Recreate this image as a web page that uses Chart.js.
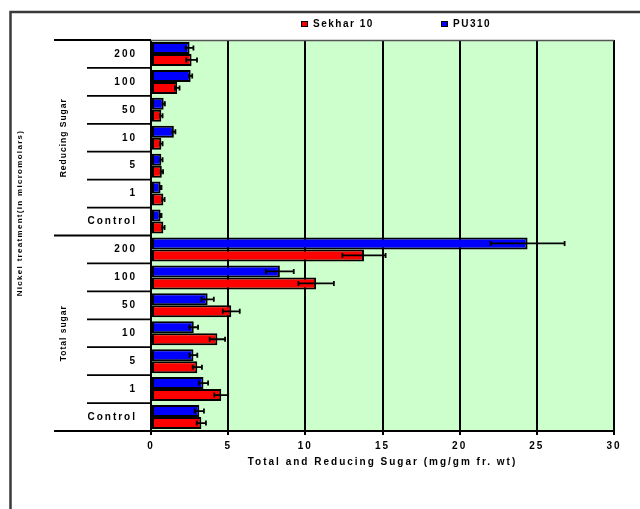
<!DOCTYPE html>
<html>
<head>
<meta charset="utf-8">
<script src="https://cdn.jsdelivr.net/npm/chart.js@4.4.1/dist/chart.umd.min.js"></script>
<style>
    html, body { margin: 0; padding: 0; background: #fff; }
    canvas { display: block; }
</style>
</head>
<body>
<canvas id="sugarChart" width="640" height="509"></canvas>
<script>
// nickel treatment levels, reducing sugar block first, total sugar block second
const categories = ['200', '100', '50', '10', '5', '1', 'Control', '200', '100', '50', '10', '5', '1', 'Control']
const groups     = ['Reducing Sugar', 'Total sugar']
const groupSize  = 7

const pu310       = [2.5, 2.57, 0.82, 1.48, 0.67, 0.62, 0.62, 24.4, 8.35, 3.67, 2.77, 2.75, 3.4, 3.13]
const pu310Err    = [0.25, 0.1, 0.08, 0.1, 0.08, 0.06, 0.06, 2.4, 0.9, 0.4, 0.28, 0.25, 0.3, 0.3]
const sekhar10    = [2.63, 1.7, 0.67, 0.67, 0.7, 0.8, 0.8, 13.8, 10.7, 5.2, 4.3, 3.0, 4.55, 3.26]
const sekhar10Err = [0.35, 0.15, 0.08, 0.08, 0.08, 0.08, 0.08, 1.4, 1.15, 0.55, 0.5, 0.3, 0.45, 0.3]

const xTicks = [0, 5, 10, 15, 20, 25, 30]

const FONT = '"Liberation Sans", Arial, sans-serif'

function spacedText(ctx, text, x, y, size, spacing, align) {
    ctx.font = 'bold ' + size + 'px ' + FONT
    ctx.letterSpacing = spacing + 'px'
    ctx.textAlign = align || 'left'
    ctx.fillText(text, x, y)
}

const sugarPlugin = {
    id: 'sugarPlugin',
    beforeDraw(chart) {
        const { ctx, chartArea: a } = chart
        ctx.save()
        ctx.fillStyle = '#ccffcc'
        ctx.fillRect(a.left, a.top, a.right - a.left, a.bottom - a.top)

        // page frame around the figure
        ctx.strokeStyle = '#3a3a3a'
        ctx.lineWidth = 2.5
        ctx.beginPath()
        ctx.moveTo(10.5, chart.height)
        ctx.lineTo(10.5, 12)
        ctx.lineTo(chart.width, 12)
        ctx.stroke()

        // caption line cut off at the top of the crop
        ctx.fillStyle = '#000'
        ctx.textBaseline = 'alphabetic'
        ctx.font = 'bold 16px "Liberation Serif"'
        ctx.letterSpacing = '3px'
        ctx.fillText('to control.', 7, -1)
        ctx.restore()
        ctx.letterSpacing = '2px'
    },
    afterDatasetsDraw(chart) {
        const { ctx } = chart
        const x = chart.scales.x
        ctx.save()
        ctx.strokeStyle = '#000'
        ctx.lineWidth = 1.8
        chart.data.datasets.forEach((ds, di) => {
            chart.getDatasetMeta(di).data.forEach((bar, i) => {
                const x0 = x.getPixelForValue(ds.data[i] - ds.errors[i])
                const x1 = x.getPixelForValue(ds.data[i] + ds.errors[i])
                const y = bar.y
                ctx.beginPath()
                ctx.moveTo(x0, y); ctx.lineTo(x1, y)
                ctx.moveTo(x0, y - 2.5); ctx.lineTo(x0, y + 2.5)
                ctx.moveTo(x1, y - 2.5); ctx.lineTo(x1, y + 2.5)
                ctx.stroke()
            })
        })
        ctx.restore()
    },
    afterDraw(chart) {
        const { ctx, chartArea: a } = chart
        const y = chart.scales.y
        ctx.save()

        // plot top edge
        ctx.strokeStyle = '#555'
        ctx.lineWidth = 1.5
        ctx.beginPath()
        ctx.moveTo(a.left, a.top + 0.5)
        ctx.lineTo(a.right, a.top + 0.5)
        ctx.stroke()

        // category separators, longer ones between the two blocks
        ctx.strokeStyle = '#000'
        ctx.lineWidth = 1.8
        ctx.beginPath()
        for (let i = 0; i <= categories.length; i++) {
            const py = y.getPixelForValue(i - 0.5)
            ctx.moveTo(i % groupSize === 0 ? 54 : 87, py)
            ctx.lineTo(a.left, py)
        }
        ctx.stroke()

        ctx.fillStyle = '#000'
        ctx.textBaseline = 'middle'

        // block labels
        groups.forEach((g, gi) => {
            const top = y.getPixelForValue(gi * groupSize - 0.5)
            const bottom = y.getPixelForValue(gi * groupSize + groupSize - 0.5)
            ctx.save()
            ctx.translate(64, (top + bottom) / 2)
            ctx.rotate(-Math.PI / 2)
            spacedText(ctx, g, 0, 0, 8.5, 1, 'center')
            ctx.restore()
        })

        // outer axis title
        ctx.save()
        ctx.translate(20, 213)
        ctx.rotate(-Math.PI / 2)
        spacedText(ctx, 'Nickel treatment(in micromolars)', 0, 0, 8, 1.3, 'center')
        ctx.restore()

        // legend
        const items = [
            { ds: chart.data.datasets[1], x: 301 },
            { ds: chart.data.datasets[0], x: 441 }
        ]
        items.forEach(it => {
            ctx.fillStyle = it.ds.backgroundColor
            ctx.strokeStyle = '#000'
            ctx.lineWidth = 1
            ctx.fillRect(it.x, 21, 7, 6)
            ctx.strokeRect(it.x + 0.5, 21.5, 6, 5)
            ctx.fillStyle = '#000'
            spacedText(ctx, it.ds.label, it.x + 12, 24.5, 10, 1.5, 'left')
        })
        ctx.restore()
    }
}

new Chart(document.getElementById('sugarChart'), {
    type: 'bar',
    data: {
        labels: categories,
        datasets: [
            {
                label: 'PU310',
                data: pu310,
                errors: pu310Err,
                backgroundColor: '#0000ff',
                borderColor: '#000',
                borderWidth: 2,
                borderSkipped: false,
                categoryPercentage: 0.86,
                barPercentage: 1.0
            },
            {
                label: 'Sekhar 10',
                data: sekhar10,
                errors: sekhar10Err,
                backgroundColor: '#ff0000',
                borderColor: '#000',
                borderWidth: 2,
                borderSkipped: false,
                categoryPercentage: 0.86,
                barPercentage: 1.0
            }
        ]
    },
    options: {
        indexAxis: 'y',
        responsive: false,
        animation: false,
        layout: { padding: { left: 0, top: 40, right: 26, bottom: 0 } },
        plugins: {
            legend: { display: false },
            tooltip: { enabled: false }
        },
        scales: {
            x: {
                min: 0,
                max: 30,
                afterBuildTicks: scale => { scale.ticks = xTicks.map(v => ({ value: v })) },
                afterFit: scale => { scale.height = 78 },
                grid: { color: '#000', lineWidth: 2, tickLength: 4 },
                border: { color: '#000', width: 2 },
                ticks: {
                    color: '#000',
                    padding: 5,
                    maxRotation: 0,
                    font: { family: FONT, size: 10, weight: 'bold' }
                },
                title: {
                    display: true,
                    text: 'Total and Reducing Sugar (mg/gm fr. wt)',
                    color: '#000',
                    padding: { top: 0, bottom: 41 },
                    font: { family: FONT, size: 10, weight: 'bold' }
                }
            },
            y: {
                afterFit: scale => { scale.width = 151 },
                grid: { display: false, drawTicks: false },
                border: { display: false },
                ticks: {
                    color: '#000',
                    padding: 14,
                    autoSkip: false,
                    font: { family: FONT, size: 10, weight: 'bold' }
                }
            }
        }
    },
    plugins: [sugarPlugin]
})
</script>
</body>
</html>
